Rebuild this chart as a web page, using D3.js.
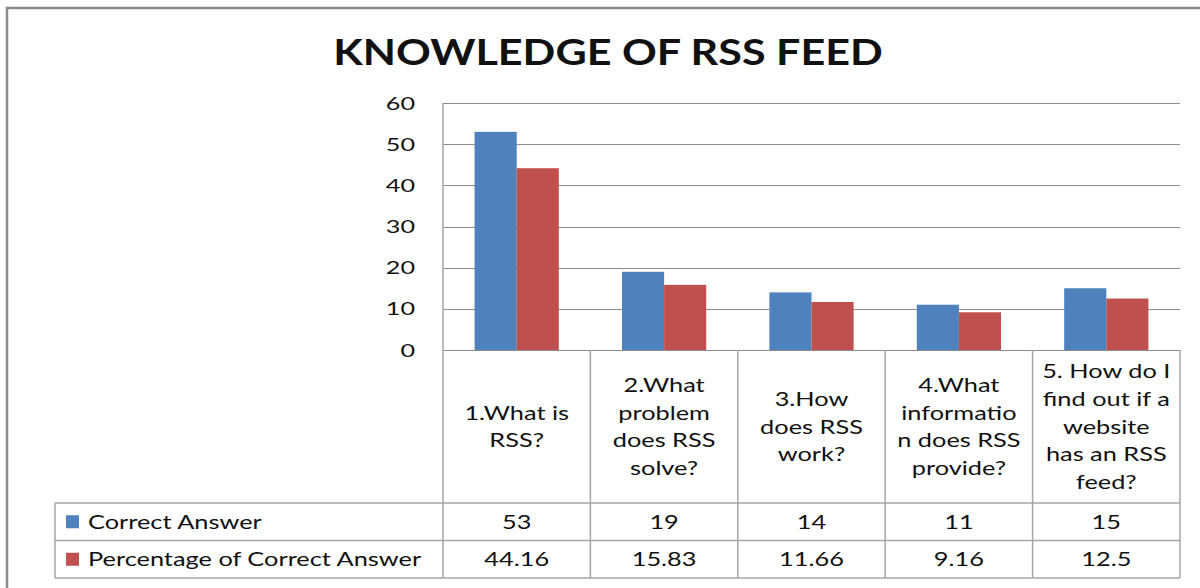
<!DOCTYPE html>
<html>
<head>
<meta charset="utf-8">
<script src="https://cdn.jsdelivr.net/npm/d3@7"></script>
<style>
  body { margin: 0; background: #fff; }
  text { font-family: Lato, "Open Sans", sans-serif; fill: #111; }
</style>
</head>
<body>
<div id="chart"></div>
<script>
//Chart data
var categoryLines = [
    ["1.What is", "RSS?"],
    ["2.What", "problem", "does RSS", "solve?"],
    ["3.How", "does RSS", "work?"],
    ["4.What", "informatio", "n does RSS", "provide?"],
    ["5. How do I", "find out if a", "website", "has an RSS", "feed?"]
];
var seriesNames = ["Correct Answer", "Percentage of Correct Answer"];
var correctAnswer = [53, 19, 14, 11, 15];
var percentCorrect = [44.16, 15.83, 11.66, 9.16, 12.5];
var yTicks = [0, 10, 20, 30, 40, 50, 60];
var colors = ["#4F81BD", "#C0504D"];

//Width and height
var w = 1200;
var h = 588;

//plot area + table
var plotLeft = 443, plotRight = 1180, plotTop = 103, plotBottom = 350;
var tableLeft = 55, labelRowBottom = 503, rowH = 37.5;

var svg = d3.select("#chart")
    .append("svg")
    .attr("width", w)
    .attr("height", h);

svg.append("rect").attr("width", w).attr("height", h).attr("fill", "#fff");

//outer chart border (only left and top edges are visible)
svg.append("rect")
    .attr("x", 7).attr("y", 8)
    .attr("width", 1400).attr("height", 800)
    .attr("fill", "none")
    .attr("stroke", "#8a8a8a")
    .attr("stroke-width", 2.5);

//the original picture is stretched sideways, so text gets a horizontal scale
function addText(g, x, y, str, size, anchor, sx, weight) {
    return g.append("text")
        .attr("transform", "translate(" + x + "," + y + ") scale(" + sx + ",1)")
        .attr("text-anchor", anchor || "start")
        .style("font-size", size + "px")
        .style("font-weight", weight || "normal")
        .text(str);
}

//title
addText(svg, 608, 65, "KNOWLEDGE OF RSS FEED", 37, "middle", 1.165, "bold");

var catIdx = d3.range(categoryLines.length);

var x = d3.scaleBand()
    .domain(catIdx)
    .range([plotLeft, plotRight])
    .paddingInner(0)
    .paddingOuter(0);

//gap width 150% like excel
var barW = x.bandwidth() / 3.5;
var xInner = d3.scaleBand()
    .domain([0, 1])
    .range([x.bandwidth() / 2 - barW, x.bandwidth() / 2 + barW]);

var y = d3.scaleLinear()
    .domain([0, 60])
    .range([plotBottom, plotTop]);

//gridlines
svg.append("g")
    .selectAll("line")
    .data(yTicks)
    .enter()
    .append("line")
    .attr("x1", plotLeft)
    .attr("x2", plotRight)
    .attr("y1", function(d) { return Math.round(y(d)) + 0.5; })
    .attr("y2", function(d) { return Math.round(y(d)) + 0.5; })
    .attr("stroke", "#8c8c8c")
    .attr("stroke-width", 1.2);

//y labels
var yLab = svg.append("g");
yTicks.forEach(function(t) {
    addText(yLab, 415, y(t) + 6.5, t, 18, "end", 1.4);
});

//bars
var series = [correctAnswer, percentCorrect];
series.forEach(function(vals, s) {
    svg.append("g")
        .selectAll("rect")
        .data(vals)
        .enter()
        .append("rect")
        .attr("x", function(d, i) { return x(i) + xInner(s); })
        .attr("y", function(d) { return y(d); })
        .attr("width", xInner.bandwidth())
        .attr("height", function(d) { return y(0) - y(d); })
        .attr("fill", colors[s]);
});

//data table lines
var tableBottom = labelRowBottom + rowH * 2;
var grid = svg.append("g")
    .attr("stroke", "#a6a6a6")
    .attr("stroke-width", 1.5);

//plot area left edge, continues down through the table
grid.append("line")
    .attr("x1", plotLeft).attr("x2", plotLeft)
    .attr("y1", plotTop).attr("y2", tableBottom);

catIdx.forEach(function(i) {
    grid.append("line")
        .attr("x1", x(i) + x.bandwidth()).attr("x2", x(i) + x.bandwidth())
        .attr("y1", plotBottom).attr("y2", tableBottom);
});

[labelRowBottom, labelRowBottom + rowH, tableBottom].forEach(function(yy) {
    grid.append("line")
        .attr("x1", tableLeft).attr("x2", plotRight)
        .attr("y1", yy).attr("y2", yy);
});
grid.append("line")
    .attr("x1", tableLeft).attr("x2", tableLeft)
    .attr("y1", labelRowBottom).attr("y2", tableBottom);

//category labels
var lineH = 27.6;
var catMid = (plotBottom + labelRowBottom) / 2;
var catLab = svg.append("g");
categoryLines.forEach(function(lines, i) {
    var cx = x(i) + x.bandwidth() / 2;
    var y0 = catMid - (lines.length - 1) / 2 * lineH + 7;
    lines.forEach(function(l, j) {
        addText(catLab, cx, y0 + j * lineH, l, 19.5, "middle", 1.3);
    });
});

//table rows: legend key + values
var rows = svg.append("g");
series.forEach(function(vals, s) {
    var rowMid = labelRowBottom + rowH * s + rowH / 2;
    rows.append("rect")
        .attr("x", 66).attr("y", rowMid - 6.5)
        .attr("width", 13).attr("height", 13)
        .attr("fill", colors[s]);
    addText(rows, 88, rowMid + 7, seriesNames[s], 19.5, "start", 1.3);
    vals.forEach(function(v, i) {
        addText(rows, x(i) + x.bandwidth() / 2, rowMid + 7, String(v), 19.5, "middle", 1.3);
    });
});
</script>
</body>
</html>
